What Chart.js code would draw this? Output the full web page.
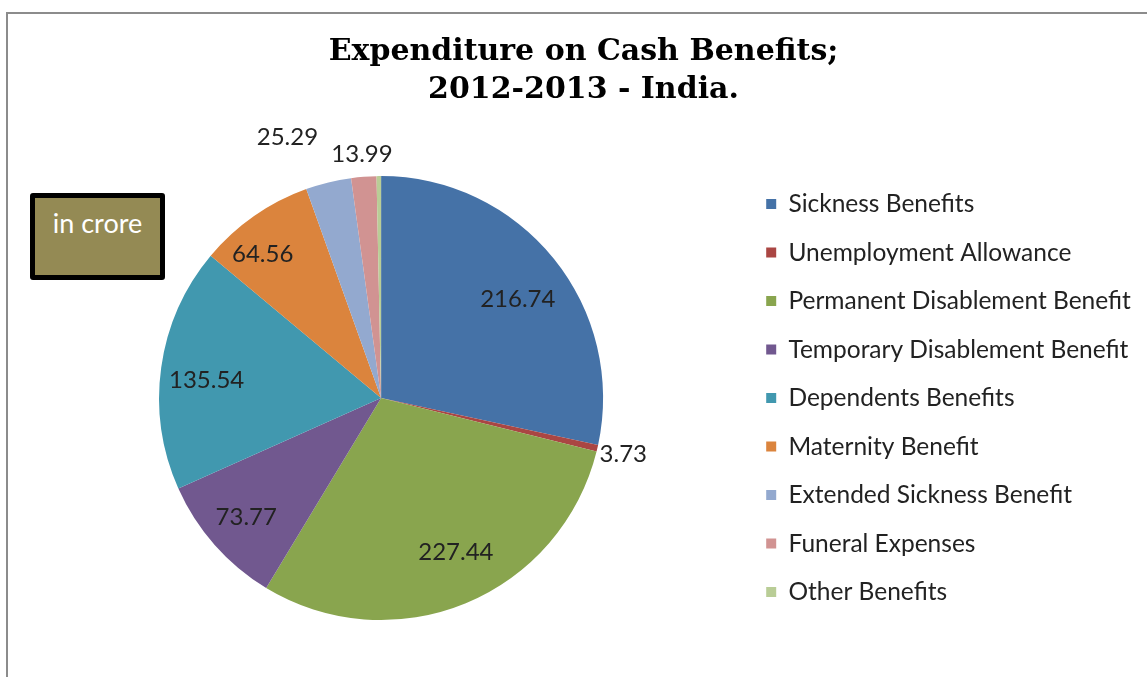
<!DOCTYPE html>
<html>
<head>
<meta charset="utf-8">
<title>Expenditure on Cash Benefits 2012-2013</title>
<script src="https://cdn.jsdelivr.net/npm/chart.js@4/dist/chart.umd.min.js"></script>
<style>
  html, body { margin: 0; padding: 0; background: #fff; }
  body { width: 1147px; height: 677px; position: relative; overflow: hidden; }
  .frame { position: absolute; left: 6px; top: 12px; right: -4px; bottom: -4px;
           border-top: 2px solid #8c8c8c; border-left: 2px solid #8c8c8c; }
  .wrap { position: absolute; left: 20px; top: 0; width: 1127px; height: 677px; }
  .unit { position: absolute; left: 30px; top: 193px; width: 125px; height: 77px;
          background: #948a54; border: 5px solid #000; border-radius: 3px;
          color: #fff; font: 27px Lato, "Open Sans", sans-serif; text-align: center;
          line-height: 1; }
  .unit span { position: relative; top: 11px; }
</style>
</head>
<body>
<div class="frame"></div>
<div class="wrap"><canvas id="chartCash"></canvas></div>
<div class="unit"><span>in crore</span></div>
<script>
// ข้อมูล (in crore)
const categories = ['Sickness Benefits', 'Unemployment Allowance', 'Permanent Disablement Benefit',
  'Temporary Disablement Benefit', 'Dependents Benefits', 'Maternity Benefit',
  'Extended Sickness Benefit', 'Funeral Expenses', 'Other Benefits'];
const values = [216.74, 3.73, 227.44, 73.77, 135.54, 64.56, 25.29, 13.99, 2.5];
const shownLabels = ['216.74', '3.73', '227.44', '73.77', '135.54', '64.56', '25.29', '13.99', ''];
const sliceColors = ['#4572a7', '#aa4643', '#89a54e', '#71588f', '#4198af', '#db843d', '#93a9cf', '#d19392', '#b9cd96'];

// label placement: radius factor + angle nudge (deg)
const labelRadius = [0.76, 1.12, 0.77, 0.81, 0.79, 0.84, 1.25, 1.10, 0];
const labelNudge = [3, 0, -3.5, 0, -2, -4.5, -6, 0, 0];

const sliceLabels = {
  id: 'sliceLabels',
  afterDatasetsDraw(chart) {
    const { ctx } = chart;
    const arcs = chart.getDatasetMeta(0).data;
    ctx.save();
    ctx.font = '24px Lato, "Open Sans", sans-serif';
    ctx.fillStyle = '#222';
    ctx.textAlign = 'center';
    ctx.textBaseline = 'middle';
    arcs.forEach((arc, i) => {
      if (!shownLabels[i]) return;
      const p = arc.getProps(['x', 'y', 'startAngle', 'endAngle', 'outerRadius'], true);
      const mid = (p.startAngle + p.endAngle) / 2 + labelNudge[i] * Math.PI / 180;
      const r = p.outerRadius * labelRadius[i];
      ctx.fillText(shownLabels[i], p.x + Math.cos(mid) * r, p.y + Math.sin(mid) * r);
    });
    ctx.restore();
  }
};

new Chart(document.getElementById('chartCash').getContext('2d'), {
  type: 'pie',
  data: {
    labels: categories,
    datasets: [{ data: values, backgroundColor: sliceColors, borderWidth: 0, radius: 222 }]
  },
  options: {
    responsive: true,
    maintainAspectRatio: false,
    animation: false,
    layout: { padding: { bottom: 17 } },
    plugins: {
      title: {
        display: true,
        text: ['Expenditure on Cash Benefits;', '2012-2013 - India.'],
        color: '#000',
        font: { family: '"DejaVu Serif", serif', size: 30, weight: 'bold', lineHeight: 1.27 },
        padding: { top: 33, bottom: 27 }
      },
      legend: {
        position: 'right',
        fullSize: false,
        labels: {
          boxWidth: 10, boxHeight: 10, padding: 24, color: '#222',
          font: { family: 'Lato, "Open Sans", sans-serif', size: 24.5 },
          // trailing space keeps a right margin after the longest label
          generateLabels(chart) {
            return Chart.overrides.pie.plugins.legend.labels.generateLabels(chart)
              .map(it => ({ ...it, text: it.text + '\u2009\u2009' }));
          }
        }
      },
      tooltip: { enabled: false }
    }
  },
  plugins: [sliceLabels]
});
</script>
</body>
</html>
